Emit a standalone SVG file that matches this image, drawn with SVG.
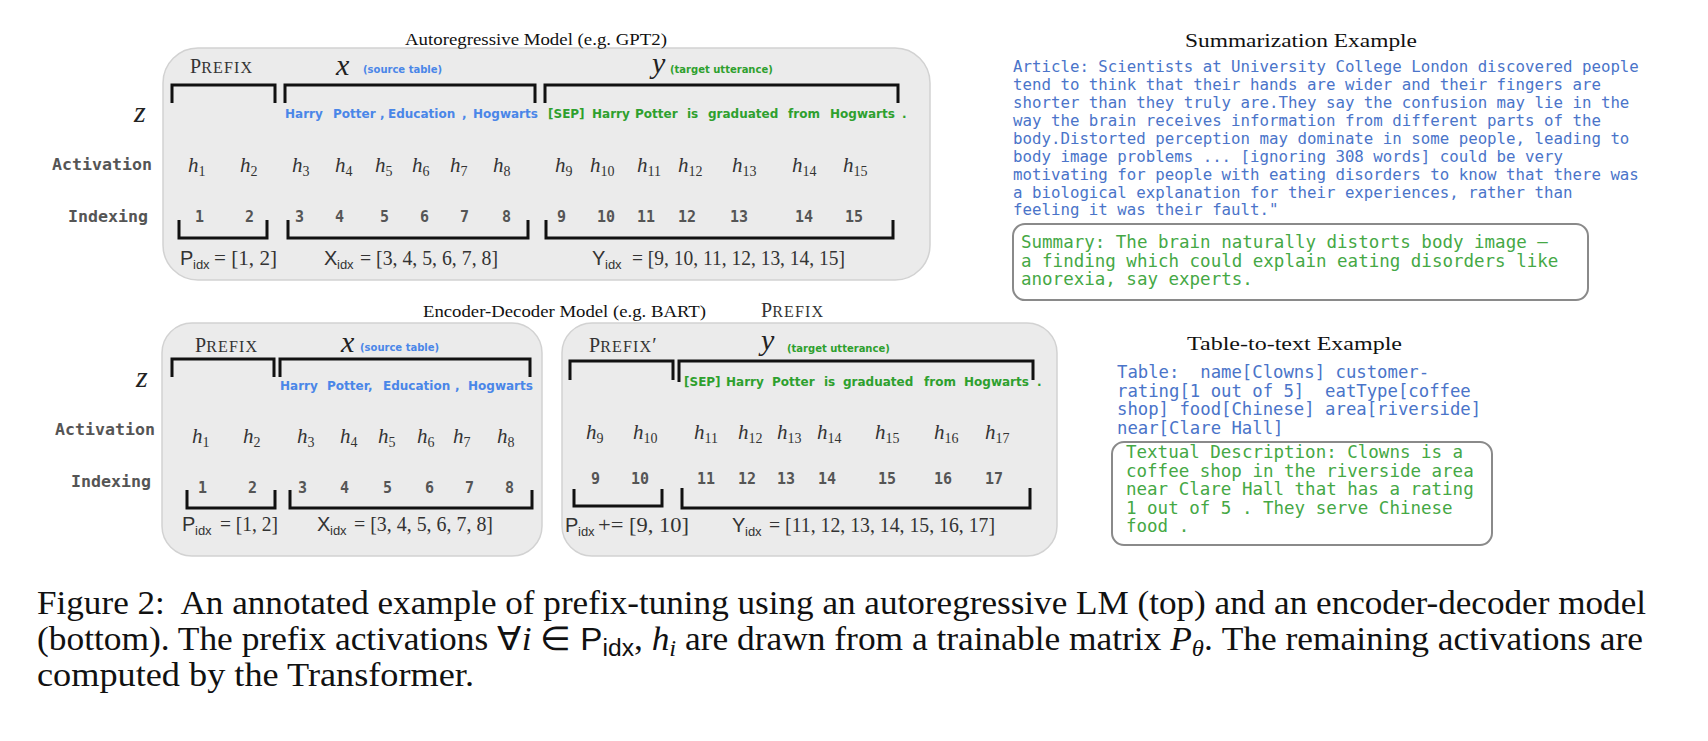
<svg xmlns="http://www.w3.org/2000/svg" width="1708" height="741" viewBox="0 0 1708 741">
<style>
.box{fill:#ebebeb;stroke:#d2d2d2;stroke-width:1.5}
.br{fill:none;stroke:#111;stroke-width:3}
.ttl{font-family:"Liberation Serif",serif;font-size:17px;fill:#111}
.sc1{font-family:"Liberation Serif",serif;font-size:20px;fill:#333}
.sc2{font-family:"Liberation Serif",serif;font-size:16px;fill:#333;letter-spacing:1.2px}
.mx{font-family:"Liberation Serif",serif;font-style:italic;font-size:30px;fill:#222}
.z{font-family:"Liberation Serif",serif;font-style:italic;font-size:30px;fill:#222}
.st{font-family:"DejaVu Sans",sans-serif;font-weight:bold;font-size:10px}
.blue{fill:#4a86e8}
.green{fill:#2ea02e}
.tok{font-family:"DejaVu Sans",sans-serif;font-weight:bold;font-size:12px}
.h{font-family:"Liberation Serif",serif;font-style:italic;font-size:21px;fill:#333}
.hs{font-family:"Liberation Serif",serif;font-style:normal;font-size:14px;fill:#333}
.num{font-family:"DejaVu Sans Mono",monospace;font-weight:bold;font-size:15px;fill:#555}
.lab{font-family:"DejaVu Sans Mono",monospace;font-weight:bold;font-size:16px;fill:#555}
.idxs{font-family:"Liberation Sans",sans-serif;font-size:20px;fill:#333}
.idxsub{font-family:"Liberation Sans",sans-serif;font-size:13px;fill:#333}
.idxm{font-family:"Liberation Serif",serif;font-size:21px;fill:#333}
.ex{font-family:"Liberation Serif",serif;font-size:19px;fill:#111}
.art{font-family:"DejaVu Sans Mono",monospace;font-size:15.75px;fill:#4a74c9}
.sum{font-family:"DejaVu Sans Mono",monospace;font-size:17.5px;fill:#45a845;white-space:pre}
.tab{font-family:"DejaVu Sans Mono",monospace;font-size:17.3px;fill:#4a74c9;white-space:pre}
.ibox{fill:#fff;stroke:#8a8a8a;stroke-width:2}
.cap{font-family:"Liberation Serif",serif;font-size:33px;fill:#111;white-space:pre}
.it{font-style:italic}
.sn{font-family:"Liberation Sans",sans-serif;font-size:31px}
.sb{font-size:23px}
</style>
<rect width="1708" height="741" fill="#fff"/>

<!-- Autoregressive model -->
<g id="autoregressive">
<rect class="box" x="163" y="48" width="767" height="232" rx="35"/>
<text class="ttl" x="405" y="45" textLength="262" lengthAdjust="spacingAndGlyphs">Autoregressive Model  (e.g. GPT2)</text>
<text x="190" y="73"><tspan class="sc1">P</tspan><tspan class="sc2">REFIX</tspan></text>
<text class="mx" x="336" y="75">x</text>
<text class="st blue" x="363" y="73">(source table)</text>
<text class="mx" x="652" y="73">y</text>
<text class="st green" x="670" y="73">(target utterance)</text>
<g class="tok blue">
<text x="285" y="118">Harry</text><text x="333" y="118">Potter</text><text x="380" y="118">,</text><text x="388" y="118">Education</text><text x="462" y="118">,</text><text x="473" y="118">Hogwarts</text>
</g>
<g class="tok green">
<text x="548" y="118">[SEP]</text><text x="592" y="118">Harry</text><text x="635" y="118">Potter</text><text x="687" y="118">is</text><text x="708" y="118">graduated</text><text x="788" y="118">from</text><text x="830" y="118">Hogwarts</text><text x="902" y="118">.</text>
</g>
<g class="h">
<text x="188" y="172">h<tspan class="hs" dy="4">1</tspan></text>
<text x="240" y="172">h<tspan class="hs" dy="4">2</tspan></text>
<text x="292" y="172">h<tspan class="hs" dy="4">3</tspan></text>
<text x="335" y="172">h<tspan class="hs" dy="4">4</tspan></text>
<text x="375" y="172">h<tspan class="hs" dy="4">5</tspan></text>
<text x="412" y="172">h<tspan class="hs" dy="4">6</tspan></text>
<text x="450" y="172">h<tspan class="hs" dy="4">7</tspan></text>
<text x="493" y="172">h<tspan class="hs" dy="4">8</tspan></text>
<text x="555" y="172">h<tspan class="hs" dy="4">9</tspan></text>
<text x="590" y="172">h<tspan class="hs" dy="4">10</tspan></text>
<text x="637" y="172">h<tspan class="hs" dy="4">11</tspan></text>
<text x="678" y="172">h<tspan class="hs" dy="4">12</tspan></text>
<text x="732" y="172">h<tspan class="hs" dy="4">13</tspan></text>
<text x="792" y="172">h<tspan class="hs" dy="4">14</tspan></text>
<text x="843" y="172">h<tspan class="hs" dy="4">15</tspan></text>
</g>
<g class="num">
<text x="195" y="222">1</text><text x="245" y="222">2</text><text x="295" y="222">3</text><text x="335" y="222">4</text><text x="380" y="222">5</text><text x="420" y="222">6</text><text x="460" y="222">7</text><text x="502" y="222">8</text><text x="557" y="222">9</text><text x="597" y="222">10</text><text x="637" y="222">11</text><text x="678" y="222">12</text><text x="730" y="222">13</text><text x="795" y="222">14</text><text x="845" y="222">15</text>
</g>
<g id="ar-brackets" class="br">
<path d="M172,103V85H275V103"/><path d="M285,103V85H535V103"/><path d="M545,103V85H898V103"/>
<path d="M179,220V238H267V220"/><path d="M288,220V238H528V220"/><path d="M546,220V238H893V220"/>
</g>
<text class="idxs" x="180" y="265">P</text><text class="idxsub" x="193" y="269">idx</text><text class="idxm" x="214" y="265" textLength="63" lengthAdjust="spacingAndGlyphs">= [1, 2]</text>
<text class="idxs" x="324" y="265">X</text><text class="idxsub" x="337" y="269">idx</text><text class="idxm" x="360" y="265" textLength="138" lengthAdjust="spacingAndGlyphs">= [3, 4, 5, 6, 7, 8]</text>
<text class="idxs" x="592" y="265">Y</text><text class="idxsub" x="605" y="269">idx</text><text class="idxm" x="632" y="265" textLength="213" lengthAdjust="spacingAndGlyphs">= [9, 10, 11, 12, 13, 14, 15]</text>
</g>

<g id="row-labels">
<text class="z" x="134" y="122">z</text>
<text class="lab" x="52" y="170" textLength="100" lengthAdjust="spacingAndGlyphs">Activation</text>
<text class="lab" x="68" y="222" textLength="80" lengthAdjust="spacingAndGlyphs">Indexing</text>
<text class="z" x="136" y="387">z</text>
<text class="lab" x="55" y="435" textLength="100" lengthAdjust="spacingAndGlyphs">Activation</text>
<text class="lab" x="71" y="487" textLength="80" lengthAdjust="spacingAndGlyphs">Indexing</text>
</g>

<!-- Encoder-decoder -->
<g id="encdec-title">
<text class="ttl" x="423" y="317" textLength="283" lengthAdjust="spacingAndGlyphs">Encoder-Decoder Model  (e.g. BART)</text>
<text x="761" y="317"><tspan class="sc1">P</tspan><tspan class="sc2">REFIX</tspan></text>
</g>
<g id="encoder">
<rect class="box" x="162" y="323" width="380" height="233" rx="30"/>
<text x="195" y="352"><tspan class="sc1">P</tspan><tspan class="sc2">REFIX</tspan></text>
<text class="mx" x="341" y="352">x</text>
<text class="st blue" x="360" y="351">(source table)</text>
<g class="tok blue">
<text x="280" y="390">Harry</text><text x="327" y="390">Potter</text><text x="368" y="390">,</text><text x="383" y="390">Education</text><text x="455" y="390">,</text><text x="468" y="390">Hogwarts</text>
</g>
<g class="h">
<text x="192" y="443">h<tspan class="hs" dy="4">1</tspan></text>
<text x="243" y="443">h<tspan class="hs" dy="4">2</tspan></text>
<text x="297" y="443">h<tspan class="hs" dy="4">3</tspan></text>
<text x="340" y="443">h<tspan class="hs" dy="4">4</tspan></text>
<text x="378" y="443">h<tspan class="hs" dy="4">5</tspan></text>
<text x="417" y="443">h<tspan class="hs" dy="4">6</tspan></text>
<text x="453" y="443">h<tspan class="hs" dy="4">7</tspan></text>
<text x="497" y="443">h<tspan class="hs" dy="4">8</tspan></text>
</g>
<g class="num">
<text x="198" y="493">1</text><text x="248" y="493">2</text><text x="298" y="493">3</text><text x="340" y="493">4</text><text x="383" y="493">5</text><text x="425" y="493">6</text><text x="465" y="493">7</text><text x="505" y="493">8</text>
</g>
<g class="br">
<path d="M172,377V359H274V377"/><path d="M280,377V359H530V377"/>
<path d="M187,490V508H275V490"/><path d="M290,490V508H532V490"/>
</g>
<text class="idxs" x="182" y="531">P</text><text class="idxsub" x="195" y="535">idx</text><text class="idxm" x="220" y="531" textLength="58" lengthAdjust="spacingAndGlyphs">= [1, 2]</text>
<text class="idxs" x="317" y="531">X</text><text class="idxsub" x="330" y="535">idx</text><text class="idxm" x="354" y="531" textLength="139" lengthAdjust="spacingAndGlyphs">= [3, 4, 5, 6, 7, 8]</text>
</g>

<g id="decoder">
<rect class="box" x="562" y="323" width="495" height="233" rx="30"/>
<text x="589" y="352"><tspan class="sc1">P</tspan><tspan class="sc2">REFIX</tspan><tspan class="sc1">′</tspan></text>
<text class="mx" x="761" y="350">y</text>
<text class="st green" x="787" y="352">(target utterance)</text>
<g class="tok green">
<text x="684" y="386">[SEP]</text><text x="726" y="386">Harry</text><text x="772" y="386">Potter</text><text x="824" y="386">is</text><text x="843" y="386">graduated</text><text x="924" y="386">from</text><text x="964" y="386">Hogwarts</text><text x="1037" y="386">.</text>
</g>
<g class="h">
<text x="586" y="439">h<tspan class="hs" dy="4">9</tspan></text>
<text x="633" y="439">h<tspan class="hs" dy="4">10</tspan></text>
<text x="694" y="439">h<tspan class="hs" dy="4">11</tspan></text>
<text x="738" y="439">h<tspan class="hs" dy="4">12</tspan></text>
<text x="777" y="439">h<tspan class="hs" dy="4">13</tspan></text>
<text x="817" y="439">h<tspan class="hs" dy="4">14</tspan></text>
<text x="875" y="439">h<tspan class="hs" dy="4">15</tspan></text>
<text x="934" y="439">h<tspan class="hs" dy="4">16</tspan></text>
<text x="985" y="439">h<tspan class="hs" dy="4">17</tspan></text>
</g>
<g class="num">
<text x="591" y="484">9</text><text x="631" y="484">10</text><text x="697" y="484">11</text><text x="738" y="484">12</text><text x="777" y="484">13</text><text x="818" y="484">14</text><text x="878" y="484">15</text><text x="934" y="484">16</text><text x="985" y="484">17</text>
</g>
<g class="br">
<path d="M570,380V361H673V380"/><path d="M679,382V361H1033V380"/>
<path d="M574,489V506H662V489"/><path d="M682,488V508H1030V488"/>
</g>
<text class="idxs" x="565" y="532">P</text><text class="idxsub" x="578" y="536">idx</text><text class="idxm" x="598" y="532" textLength="91" lengthAdjust="spacingAndGlyphs">+= [9, 10]</text>
<text class="idxs" x="732" y="532">Y</text><text class="idxsub" x="745" y="536">idx</text><text class="idxm" x="769" y="532" textLength="226" lengthAdjust="spacingAndGlyphs">= [11, 12, 13, 14, 15, 16, 17]</text>
</g>

<!-- Summarization example -->
<g id="summarization">
<text class="ex" x="1185" y="47" textLength="232" lengthAdjust="spacingAndGlyphs">Summarization Example</text>
<g class="art">
<text x="1013" y="72">Article: Scientists at University College London discovered people</text>
<text x="1013" y="90">tend to think that their hands are wider and their fingers are</text>
<text x="1013" y="108">shorter than they truly are.They say the confusion may lie in the</text>
<text x="1013" y="126">way the brain receives information from different parts of the</text>
<text x="1013" y="144">body.Distorted perception may dominate in some people, leading to</text>
<text x="1013" y="161.5">body image problems ... [ignoring 308 words] could be very</text>
<text x="1013" y="179.5">motivating for people with eating disorders to know that there was</text>
<text x="1013" y="197.5">a biological explanation for their experiences, rather than</text>
<text x="1013" y="215">feeling it was their fault."</text>
</g>
<rect class="ibox" x="1013" y="224" width="575" height="76" rx="12"/>
<g class="sum">
<text x="1021" y="248">Summary: The brain naturally distorts body image –</text>
<text x="1021" y="266.5">a finding which could explain eating disorders like</text>
<text x="1021" y="285">anorexia, say experts.</text>
</g>
</g>

<!-- Table-to-text example -->
<g id="table-to-text">
<text class="ex" x="1187" y="350" textLength="215" lengthAdjust="spacingAndGlyphs">Table-to-text Example</text>
<g class="tab">
<text x="1117" y="378" xml:space="preserve">Table:  name[Clowns] customer-</text>
<text x="1117" y="396.5" xml:space="preserve">rating[1 out of 5]  eatType[coffee</text>
<text x="1117" y="415">shop] food[Chinese] area[riverside]</text>
<text x="1117" y="433.5">near[Clare Hall]</text>
</g>
<rect class="ibox" x="1112" y="442" width="380" height="103" rx="12"/>
<g class="sum">
<text x="1126" y="458">Textual Description: Clowns is a</text>
<text x="1126" y="476.5">coffee shop in the riverside area</text>
<text x="1126" y="495">near Clare Hall that has a rating</text>
<text x="1126" y="513.5">1 out of 5 . They serve Chinese</text>
<text x="1126" y="532">food .</text>
</g>
</g>

<!-- Caption -->
<g id="caption">
<text class="cap" x="37" y="614" xml:space="preserve" textLength="1609" lengthAdjust="spacingAndGlyphs">Figure 2:  An annotated example of prefix-tuning using an autoregressive LM (top) and an encoder-decoder model</text>
<text class="cap" x="37" y="650" xml:space="preserve" textLength="1606" lengthAdjust="spacingAndGlyphs">(bottom). The prefix activations ∀<tspan class="it">i</tspan> ∈ <tspan class="sn">P</tspan><tspan class="sn sb" dy="6">idx</tspan><tspan dy="-6">, </tspan><tspan class="it">h</tspan><tspan class="it sb" dy="6">i</tspan><tspan dy="-6"> are drawn from a trainable matrix </tspan><tspan class="it">P</tspan><tspan class="it sb" dy="6">θ</tspan><tspan dy="-6">. The remaining activations are</tspan></text>
<text class="cap" x="37" y="686" textLength="437" lengthAdjust="spacingAndGlyphs">computed by the Transformer.</text>
</g>
</svg>
